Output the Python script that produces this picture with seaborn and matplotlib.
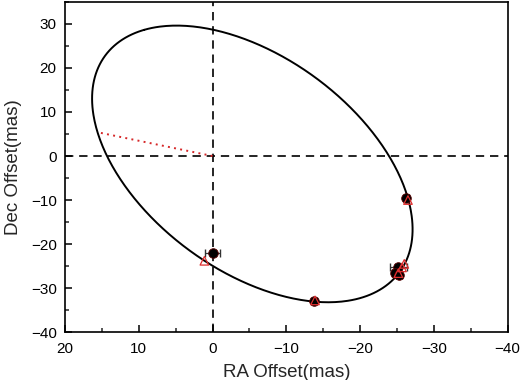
import numpy as np
import pandas as pd
import matplotlib
matplotlib.use("Agg")
import matplotlib.pyplot as plt
from matplotlib.ticker import MultipleLocator
import seaborn as sns

# apparent orbit (projected ellipse) parameters
ell_center = (-5.4, -1.8)
ell_a = 33.8
ell_b = 17.8
ell_angle = 64.3

# observed positions (black) with errors
obs_ra = [0.0, -13.8, -26.3, -25.2, -24.8, -25.3]
obs_dec = [-22.0, -33.0, -9.6, -25.3, -26.5, -27.0]
obs_ra_err = [1.0, 0.3, 0.3, 1.2, 0.4, 0.4]
obs_dec_err = [0.3, 0.3, 0.3, 0.3, 0.3, 0.3]

# model positions (red open triangles)
mod_ra = [1.1, -13.9, -26.5, -26.0, -25.7, -25.2]
mod_dec = [-23.8, -32.8, -10.0, -24.5, -25.3, -26.6]

# dotted line from origin
node_ra = [0.0, 15.3]
node_dec = [0.0, 5.3]

sns.set_style("ticks")
plt.rcParams['font.family'] = ['Liberation Sans', 'DejaVu Sans']

t = np.linspace(0, 2 * np.pi, 400)
phi = np.deg2rad(ell_angle)
ell_df = pd.DataFrame({
    'ra': ell_center[0] + ell_a * np.cos(t) * np.cos(phi) - ell_b * np.sin(t) * np.sin(phi),
    'dec': ell_center[1] + ell_a * np.cos(t) * np.sin(phi) + ell_b * np.sin(t) * np.cos(phi),
})
obs_df = pd.DataFrame({'ra': obs_ra, 'dec': obs_dec})
mod_df = pd.DataFrame({'ra': mod_ra, 'dec': mod_dec})

fig, ax = plt.subplots(figsize=(5.2, 3.8), dpi=100)
fig.subplots_adjust(left=0.125, right=0.976, top=0.995, bottom=0.126)

ax.axhline(0, color='black', ls=(0, (5, 3.5)), lw=1.2, zorder=1)
ax.axvline(0, color='black', ls=(0, (5, 3.5)), lw=1.2, zorder=1)

sns.lineplot(data=ell_df, x='ra', y='dec', sort=False, estimator=None,
             color='black', lw=1.4, ax=ax, zorder=2)
ax.plot(node_ra, node_dec, color='#d62728', ls=(0, (1, 2.2)), lw=1.4, zorder=2)

ax.errorbar(obs_ra, obs_dec, xerr=obs_ra_err, yerr=obs_dec_err, fmt='none',
            ecolor='#333333', elinewidth=0.9, capsize=3, zorder=3)
sns.scatterplot(data=obs_df, x='ra', y='dec', color='black', edgecolor='#5a0000',
                s=48, linewidth=0.6, ax=ax, zorder=4)
sns.scatterplot(data=mod_df, x='ra', y='dec', marker='^', facecolor='none',
                edgecolor='#e03030', s=38, linewidth=0.9, ax=ax, zorder=5)

ax.set_xlim(20, -40)
ax.set_ylim(-40, 35)
ax.xaxis.set_major_locator(MultipleLocator(10))
ax.xaxis.set_minor_locator(MultipleLocator(5))
ax.yaxis.set_major_locator(MultipleLocator(10))
ax.yaxis.set_minor_locator(MultipleLocator(5))
ax.tick_params(which='major', direction='in', length=5, width=1.1, labelsize=11, colors='black')
ax.tick_params(axis='x', which='major', pad=7)
ax.tick_params(axis='y', which='major', pad=6)
ax.tick_params(which='minor', direction='in', length=3, width=1.1)
for sp in ax.spines.values():
    sp.set_visible(True)
    sp.set_linewidth(1.2)
    sp.set_color('black')

ax.set_xlabel('RA Offset(mas)', fontsize=13.5, labelpad=6)
ax.set_ylabel('Dec Offset(mas)', fontsize=13.5, labelpad=6)

fig.savefig('out.png', dpi=100)
